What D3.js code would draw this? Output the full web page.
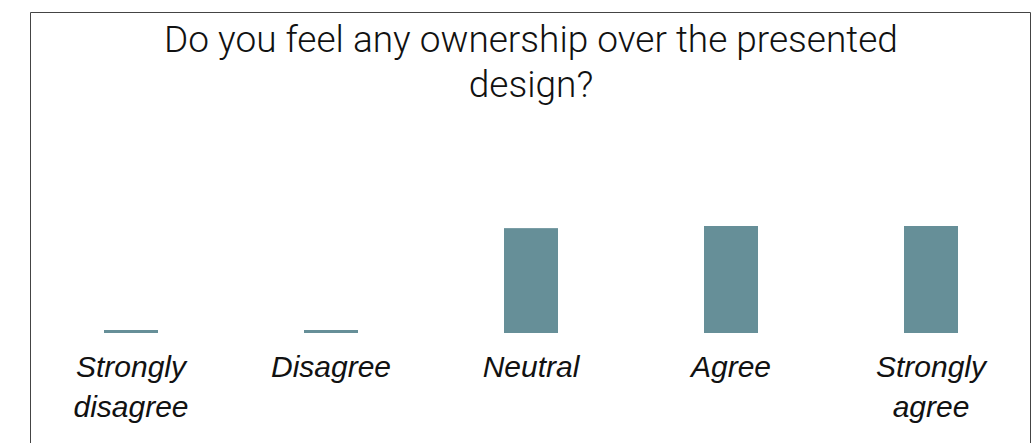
<!DOCTYPE html>
<html>
<head>
<meta charset="utf-8">
<script src="https://cdn.jsdelivr.net/npm/d3@7"></script>
<style>
  body { margin: 0; background: #fff; }
</style>
</head>
<body>
<svg id="chart"></svg>
<script>
const categories = ["Strongly disagree", "Disagree", "Neutral", "Agree", "Strongly agree"];
const values = [0, 0, 49, 50, 50];
const titleLines = ["Do you feel any ownership over the presented", "design?"];

const W = 1036, H = 443;
const box = { left: 30.5, top: 12.5, right: 1030.5 };
const baseline = 333;
const minBar = 3;

const svg = d3.select("#chart").attr("width", W).attr("height", H);

// frame (bottom edge falls outside the picture)
svg.append("path")
  .attr("d", `M${box.left},${H + 5}V${box.top}H${box.right}V${H + 5}`)
  .attr("fill", "none")
  .attr("stroke", "#444")
  .attr("stroke-width", 1);

const x = d3.scaleBand()
  .domain(categories)
  .range([31, 1031])
  .paddingInner(0.73)
  .paddingOuter(0.365);

const y = d3.scaleLinear().domain([0, 50]).range([baseline, 226]);

const title = svg.append("text")
  .attr("x", 531)
  .attr("y", 52)
  .attr("text-anchor", "middle")
  .attr("font-family", "Roboto, sans-serif")
  .attr("font-weight", 300)
  .attr("font-size", 37)
  .attr("fill", "#111");

title.selectAll("tspan")
  .data(titleLines)
  .enter()
  .append("tspan")
  .attr("x", 531)
  .attr("dy", (d, i) => (i === 0 ? 0 : 45))
  .text((d) => d);

svg.selectAll(".bar")
  .data(categories.map((c, i) => ({ c, v: values[i] })))
  .enter()
  .append("rect")
  .attr("class", "bar")
  .attr("x", (d) => x(d.c))
  .attr("width", x.bandwidth())
  .attr("y", (d) => Math.min(y(d.v), baseline - minBar))
  .attr("height", (d) => Math.max(baseline - y(d.v), minBar))
  .attr("fill", "#668f98");

const axis = svg.append("g")
  .attr("transform", `translate(0,${baseline})`)
  .call(d3.axisBottom(x).tickSize(0).tickPadding(0));

axis.select(".domain").remove();

axis.selectAll("text")
  .attr("font-family", "'Liberation Sans', Arial, sans-serif")
  .attr("font-style", "italic")
  .attr("font-size", 30)
  .attr("fill", "#111")
  .attr("dy", null)
  .attr("y", 44)
  .call(wrap, 180);

function wrap(text, width) {
  text.each(function () {
    const t = d3.select(this);
    const words = t.text().split(/\s+/);
    const yy = t.attr("y");
    t.text(null);
    let line = [];
    let lineNo = 0;
    let tspan = t.append("tspan").attr("x", 0).attr("y", yy);
    words.forEach((w) => {
      line.push(w);
      tspan.text(line.join(" "));
      if (tspan.node().getComputedTextLength() > width && line.length > 1) {
        line.pop();
        tspan.text(line.join(" "));
        line = [w];
        lineNo++;
        tspan = t.append("tspan").attr("x", 0).attr("y", yy).attr("dy", lineNo * 40).text(w);
      }
    });
  });
}
</script>
</body>
</html>
